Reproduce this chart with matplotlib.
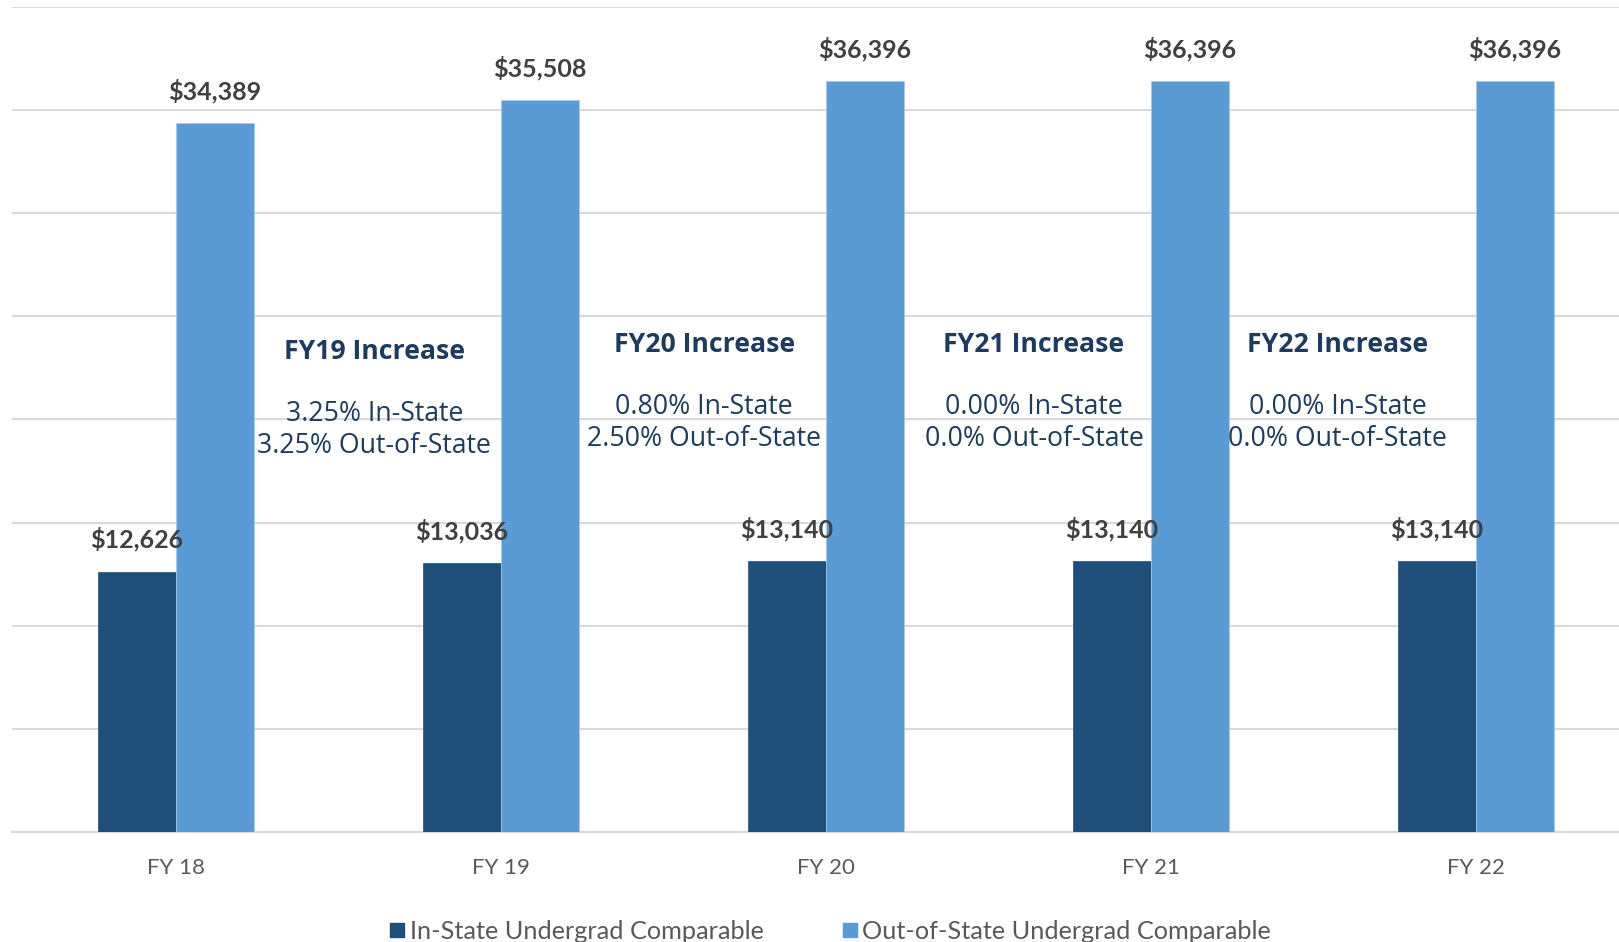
import numpy as np
import matplotlib

matplotlib.use("Agg")
import matplotlib.pyplot as plt
from matplotlib.lines import Line2D

# values
years = ["FY 18", "FY 19", "FY 20", "FY 21", "FY 22"]
in_state = [12626, 13036, 13140, 13140, 13140]
out_state = [34389, 35508, 36396, 36396, 36396]

note_titles = ["FY19 Increase", "FY20 Increase", "FY21 Increase", "FY22 Increase"]
note_lines = [
    "3.25% In-State\n3.25% Out-of-State",
    "0.80% In-State\n2.50% Out-of-State",
    "0.00% In-State\n0.0% Out-of-State",
    "0.00% In-State\n0.0% Out-of-State",
]
note_x = [0.61, 1.625, 2.64, 3.575]
note_y = [23250, 23600, 23600, 23600]

DARK = "#1F4E79"
LIGHT = "#5B9BD5"
NAVY = "#1F3A5F"
GRAY_LABEL = "#404040"
GRAY_TICK = "#595959"

fig = plt.figure(figsize=(16.19, 9.42), dpi=100)
ax = fig.add_axes([0.0074, 0.1168, 0.9926, 0.8758])

x = np.arange(len(years))
w = 0.24

b1 = ax.bar(x - w / 2, in_state, w, color=DARK, edgecolor="#2E5F8C", linewidth=0.6, zorder=3)
b2 = ax.bar(x + w / 2, out_state, w, color=LIGHT, edgecolor="#A9C9EA", linewidth=0.6, zorder=3)

for bars in (b1, b2):
    for rect in bars:
        h = rect.get_height()
        ax.annotate(f"${h:,.0f}", (rect.get_x() + rect.get_width() / 2, h),
                    xytext=(0, 23), textcoords="offset points",
                    ha="center", va="center", fontsize=18, fontweight="bold",
                    family="Lato", color=GRAY_LABEL, zorder=5)

for i in range(len(note_titles)):
    ax.text(note_x[i], note_y[i], note_titles[i], ha="center", va="center",
            fontsize=19.2, fontweight="bold", family="Open Sans", color=NAVY, zorder=6)
    ax.text(note_x[i], note_y[i] - 2300, note_lines[i], ha="center", va="top",
            fontsize=19.2, family="Open Sans", color=NAVY, linespacing=1.2, zorder=6)

ax.set_xlim(-0.505, 4.44)
ax.set_ylim(0, 40000)
ax.set_yticks(np.arange(0, 40001, 5000))
ax.yaxis.grid(True, color="#D9D9D9", linewidth=1.5, zorder=0)
ax.set_axisbelow(True)
ax.tick_params(axis="y", left=False, labelleft=False)
ax.tick_params(axis="x", bottom=False, pad=15)
ax.set_xticks(x)
ax.set_xticklabels(years, fontsize=16, family="Lato", color=GRAY_TICK)
for s in ["top", "right", "left"]:
    ax.spines[s].set_visible(False)
ax.spines["bottom"].set_color("#D9D9D9")
ax.spines["bottom"].set_linewidth(1.5)

handles = [
    Line2D([], [], marker="s", linestyle="none", markersize=10, color=DARK),
    Line2D([], [], marker="s", linestyle="none", markersize=10, color=LIGHT),
]
fig.legend(handles, ["In-State Undergrad Comparable", "Out-of-State Undergrad Comparable"],
           loc="center", bbox_to_anchor=(0.512, 0.011), ncol=2, frameon=False,
           handletextpad=0.1, columnspacing=3.0, handlelength=0.8,
           prop={"family": "Lato", "size": 18.2}, labelcolor=GRAY_TICK)

fig.savefig("out.png", dpi=100)
